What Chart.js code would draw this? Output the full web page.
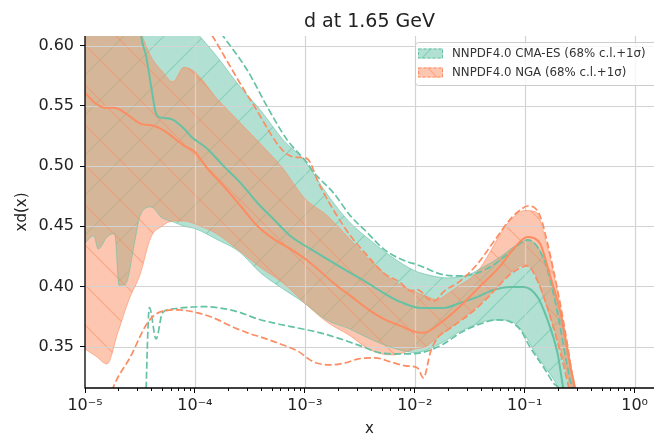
<!DOCTYPE html>
<html>
<head>
<meta charset="utf-8">
<title>d at 1.65 GeV</title>
<script src="https://cdn.jsdelivr.net/npm/chart.js@4.4.1/dist/chart.umd.min.js"></script>
<style>
  body { margin: 0; background: #fff; }
</style>
</head>
<body>
<canvas id="pdfChart" width="654" height="435"></canvas>
<script>
// values, x given as log10(x)
const chartTitle = 'd at 1.65 GeV';
const legendLabels = ['NNPDF4.0 CMA-ES (68% c.l.+1σ)', 'NNPDF4.0 NGA (68% c.l.+1σ)'];

const cmaBandLogX = [-5.0, -4.92, -4.88, -4.8, -4.73, -4.69, -4.63, -4.55, -4.5, -4.4, -4.3, -4.2, -4.1, -4.0, -3.8, -3.6, -3.4, -3.2, -3.0, -2.8, -2.6, -2.4, -2.2, -2.0, -1.9, -1.8, -1.7, -1.6, -1.5, -1.4, -1.3, -1.2, -1.1, -1.0, -0.9, -0.8, -0.7, -0.6, -0.5];
const cmaBandUp = [0.66, 0.66, 0.66, 0.66, 0.66, 0.66, 0.66, 0.66, 0.66, 0.65, 0.64, 0.63, 0.62, 0.612, 0.591, 0.567, 0.546, 0.522, 0.504, 0.477, 0.454, 0.438, 0.424, 0.413, 0.410, 0.408, 0.407, 0.408, 0.410, 0.415, 0.420, 0.426, 0.433, 0.438, 0.435, 0.417, 0.382, 0.3405, 0.29];
const cmaBandDown = [0.436, 0.442, 0.431, 0.441, 0.444, 0.401, 0.402, 0.436, 0.4585, 0.466, 0.457, 0.4536, 0.450, 0.448, 0.439, 0.429, 0.411, 0.398, 0.386, 0.372, 0.365, 0.356, 0.349, 0.345, 0.347, 0.351, 0.356, 0.362, 0.366, 0.370, 0.372, 0.372, 0.370, 0.360, 0.344, 0.331, 0.3165, 0.29, 0.27];

const ngaBandLogX = [-5.0, -4.9, -4.8, -4.7, -4.6, -4.5, -4.4, -4.3, -4.2, -4.1, -4.0, -3.8, -3.6, -3.4, -3.2, -3.0, -2.8, -2.6, -2.4, -2.2, -2.0, -1.9, -1.8, -1.7, -1.6, -1.5, -1.4, -1.3, -1.2, -1.1, -1.0, -0.9, -0.8, -0.7, -0.6, -0.5];
const ngaBandUp = [0.65, 0.65, 0.65, 0.65, 0.65, 0.614, 0.591, 0.579, 0.570, 0.582, 0.578, 0.556, 0.537, 0.518, 0.498, 0.473, 0.459, 0.440, 0.421, 0.405, 0.3955, 0.392, 0.389, 0.394, 0.4005, 0.4063, 0.416, 0.431, 0.447, 0.4577, 0.463, 0.462, 0.435, 0.3945, 0.345, 0.29];
const ngaBandDown = [0.348, 0.342, 0.3356, 0.362, 0.389, 0.4096, 0.441, 0.450, 0.4544, 0.4544, 0.452, 0.4436, 0.430, 0.4154, 0.403, 0.386, 0.3705, 0.3597, 0.347, 0.343, 0.348, 0.350, 0.357, 0.364, 0.371, 0.378, 0.386, 0.395, 0.4046, 0.4137, 0.418, 0.409, 0.383, 0.3556, 0.322, 0.28];

const cmaCentralLogX = [-4.514, -4.49, -4.444, -4.399, -4.353, -4.308, -4.217, -4.096, -4.041, -3.886, -3.741, -3.586, -3.431, -3.286, -3.131, -2.949, -2.74, -2.585, -2.43, -2.285, -2.13, -1.948, -1.739, -1.585, -1.43, -1.284, -1.13, -1.011, -0.884, -0.793, -0.702, -0.648, -0.585];
const cmaCentral = [0.63, 0.6081, 0.5914, 0.5665, 0.5433, 0.5402, 0.5391, 0.5308, 0.525, 0.5142, 0.5001, 0.486, 0.4693, 0.456, 0.4419, 0.4311, 0.4195, 0.4112, 0.4029, 0.3946, 0.3871, 0.3821, 0.3821, 0.3863, 0.3913, 0.3971, 0.3996, 0.3996, 0.3913, 0.3722, 0.3448, 0.3141, 0.28];

const ngaCentralLogX = [-5.0, -4.914, -4.823, -4.732, -4.641, -4.49, -4.369, -4.278, -4.096, -4.005, -3.886, -3.741, -3.586, -3.431, -3.286, -3.131, -2.949, -2.74, -2.585, -2.43, -2.285, -2.13, -1.994, -1.921, -1.766, -1.585, -1.403, -1.221, -1.103, -0.975, -0.92, -0.857, -0.766, -0.675, -0.584, -0.538, -0.5];
const ngaCentral = [0.561, 0.5527, 0.5485, 0.5485, 0.5444, 0.535, 0.5333, 0.5292, 0.5167, 0.512, 0.4979, 0.4835, 0.467, 0.4502, 0.4395, 0.4311, 0.4195, 0.4029, 0.3921, 0.3813, 0.373, 0.3672, 0.3622, 0.3614, 0.3697, 0.3838, 0.4004, 0.417, 0.4311, 0.4411, 0.4403, 0.435, 0.408, 0.378, 0.333, 0.314, 0.289];

const cmaSigmaUpLogX = [-3.818, -3.739, -3.525, -3.343, -3.161, -2.979, -2.922, -2.74, -2.585, -2.43, -2.285, -2.13, -1.948, -1.739, -1.585, -1.43, -1.284, -1.13, -0.975, -0.884, -0.793, -0.702, -0.611, -0.556, -0.52];
const cmaSigmaUp = [0.6174, 0.6074, 0.5798, 0.5493, 0.5217, 0.5026, 0.495, 0.4777, 0.4586, 0.4445, 0.4311, 0.4228, 0.417, 0.4096, 0.4087, 0.4112, 0.4179, 0.4286, 0.4386, 0.4328, 0.4137, 0.378, 0.3331, 0.3099, 0.29];
const cmaSigmaDownLogX = [-4.45, -4.444, -4.414, -4.353, -4.296, -4.217, -3.914, -3.741, -3.586, -3.431, -3.249, -3.067, -2.858, -2.676, -2.494, -2.312, -2.13, -1.948, -1.857, -1.739, -1.585, -1.43, -1.248, -1.13, -1.039, -0.947, -0.83, -0.739, -0.675, -0.62];
const cmaSigmaDown = [0.29, 0.3147, 0.3824, 0.3563, 0.3779, 0.3811, 0.3832, 0.3816, 0.3782, 0.373, 0.3689, 0.3655, 0.3614, 0.3564, 0.3506, 0.3448, 0.3439, 0.3448, 0.3472, 0.3522, 0.3614, 0.368, 0.3722, 0.3705, 0.3639, 0.3489, 0.3331, 0.3198, 0.3124, 0.29];

const ngaSigmaUpLogX = [-3.891, -3.836, -3.495, -3.116, -2.995, -2.949, -2.888, -2.74, -2.585, -2.43, -2.285, -2.13, -2.039, -1.975, -1.939, -1.884, -1.821, -1.739, -1.585, -1.43, -1.284, -1.13, -1.039, -0.975, -0.92, -0.857, -0.793, -0.739, -0.675, -0.611, -0.556, -0.51];
const ngaSigmaUp = [0.6158, 0.6074, 0.5549, 0.5078, 0.5067, 0.5026, 0.4885, 0.4635, 0.442, 0.4254, 0.4113, 0.403, 0.3963, 0.3971, 0.3955, 0.3897, 0.388, 0.3955, 0.4046, 0.4187, 0.4369, 0.456, 0.4635, 0.4668, 0.466, 0.4577, 0.436, 0.4137, 0.3846, 0.3514, 0.3198, 0.2975];
const ngaSigmaDownLogX = [-4.78, -4.741, -4.587, -4.432, -4.314, -4.15, -3.977, -3.832, -3.677, -3.522, -3.377, -3.222, -3.067, -2.922, -2.767, -2.631, -2.513, -2.358, -2.221, -2.085, -1.975, -1.921, -1.857, -1.794, -1.702, -1.585, -1.466, -1.339, -1.221, -1.103, -0.975, -0.884, -0.793, -0.702, -0.611, -0.565];
const ngaSigmaDown = [0.305, 0.3165, 0.3415, 0.3697, 0.3788, 0.3805, 0.378, 0.3739, 0.3672, 0.3614, 0.3572, 0.3522, 0.3464, 0.3373, 0.3348, 0.3365, 0.3398, 0.3406, 0.3373, 0.334, 0.3323, 0.324, 0.3456, 0.3572, 0.3638, 0.3713, 0.3796, 0.3904, 0.402, 0.412, 0.417, 0.4046, 0.3822, 0.354, 0.3208, 0.3017];

// axis ticks
const xMajorExp = [-5, -4, -3, -2, -1, 0];
const xTickLabels = ['10⁻⁵', '10⁻⁴', '10⁻³', '10⁻²', '10⁻¹', '10⁰'];
const xMinorMult = [2, 3, 4, 5, 6, 7, 8, 9];
const yTicks = [0.35, 0.40, 0.45, 0.50, 0.55, 0.60];

const green = '102,194,165';
const orange = '252,141,98';
const gridColor = '#d3d3d3';

Chart.defaults.font.family = "'DejaVu Sans', sans-serif";
Chart.defaults.color = '#222';

function toPoints(logx, vals) {
  return logx.map((lx, i) => ({ x: Math.pow(10, lx), y: vals[i] }));
}

// band fill + hatch in one repeating tile
function hatchPattern(rgb, dir) {
  const s = 40;
  const c = document.createElement('canvas');
  c.width = s; c.height = s;
  const g = c.getContext('2d');
  g.fillStyle = 'rgba(' + rgb + ',0.5)';
  g.fillRect(0, 0, s, s);
  g.strokeStyle = 'rgba(' + rgb + ',0.55)';
  g.lineWidth = 1.2;
  g.beginPath();
  if (dir === '/') {
    g.moveTo(0, s); g.lineTo(s, 0);
    g.moveTo(-2, 2); g.lineTo(2, -2);
    g.moveTo(s - 2, s + 2); g.lineTo(s + 2, s - 2);
  } else {
    g.moveTo(0, 0); g.lineTo(s, s);
    g.moveTo(s - 2, -2); g.lineTo(s + 2, 2);
    g.moveTo(-2, s - 2); g.lineTo(2, s + 2);
  }
  g.stroke();
  return g.createPattern(c, 'repeat');
}

const cmaPattern = hatchPattern(green, '/');
const ngaPattern = hatchPattern(orange, '\\');

function bandEdge(label, rgb, pts, fill, bg, order) {
  return {
    label: label, data: pts, order: order,
    borderColor: 'rgba(' + rgb + ',0.6)', borderWidth: 1,
    backgroundColor: bg, fill: fill, clip: 0
  };
}
function curve(label, rgb, pts, dashed, order) {
  return {
    label: label, data: pts, order: order,
    borderColor: 'rgb(' + rgb + ')', borderWidth: dashed ? 1.7 : 2,
    borderDash: dashed ? [7, 3] : [], fill: false, clip: 0
  };
}

const axesPlugin = {
  id: 'axesPlugin',
  // grid over the bands but under the lines, like matplotlib
  beforeDatasetsDraw(chart) {
    const { ctx, chartArea: a, scales: { x, y } } = chart;
    ctx.save();
    ctx.strokeStyle = gridColor;
    ctx.lineWidth = 1.2;
    ctx.beginPath();
    x.ticks.forEach(t => {
      const px = Math.round(x.getPixelForValue(t.value)) + 0.5;
      if (px - a.left < 2) return;
      ctx.moveTo(px, a.top); ctx.lineTo(px, a.bottom);
    });
    y.ticks.forEach(t => {
      const py = Math.round(y.getPixelForValue(t.value)) + 0.5;
      ctx.moveTo(a.left, py); ctx.lineTo(a.right, py);
    });
    ctx.stroke();
    ctx.restore();
  },
  afterDatasetsDraw(chart) {
    const { ctx, chartArea: a, scales: { x } } = chart;
    ctx.save();
    // spines
    ctx.strokeStyle = '#000';
    ctx.lineWidth = 1.3;
    ctx.beginPath();
    ctx.moveTo(a.left, a.top); ctx.lineTo(a.left, a.bottom + 0.6);
    ctx.moveTo(a.left - 0.6, a.bottom); ctx.lineTo(a.right, a.bottom);
    ctx.stroke();
    // minor ticks of the log axis
    ctx.lineWidth = 1;
    ctx.beginPath();
    xMajorExp.forEach(e => {
      xMinorMult.forEach(m => {
        const v = m * Math.pow(10, e);
        if (v > x.max) return;
        const px = Math.round(x.getPixelForValue(v)) + 0.5;
        ctx.moveTo(px, a.bottom); ctx.lineTo(px, a.bottom + 3);
      });
    });
    ctx.stroke();

    // legend
    const bx = 415.5, by = 42.5, bw = 250, bh = 43, r = 3;
    ctx.beginPath();
    ctx.moveTo(bx + r, by);
    ctx.lineTo(bx + bw, by);
    ctx.lineTo(bx + bw, by + bh);
    ctx.lineTo(bx + r, by + bh);
    ctx.arcTo(bx, by + bh, bx, by + bh - r, r);
    ctx.lineTo(bx, by + r);
    ctx.arcTo(bx, by, bx + r, by, r);
    ctx.closePath();
    ctx.fillStyle = 'rgba(255,255,255,0.8)';
    ctx.fill();
    ctx.strokeStyle = '#cccccc';
    ctx.lineWidth = 1;
    ctx.stroke();

    const handles = [[cmaPattern, green], [ngaPattern, orange]];
    legendLabels.forEach((txt, i) => {
      const cy = 53.5 + i * 19;
      ctx.fillStyle = handles[i][0];
      ctx.fillRect(418, cy - 5, 25, 10);
      ctx.setLineDash([3, 2]);
      ctx.strokeStyle = 'rgb(' + handles[i][1] + ')';
      ctx.strokeRect(418.5, cy - 4.5, 24, 9);
      ctx.setLineDash([]);
      ctx.fillStyle = '#333';
      ctx.font = "11.8px 'DejaVu Sans'";
      ctx.textBaseline = 'middle';
      ctx.fillText(txt, 452, cy);
    });
    ctx.restore();
  }
};

new Chart(document.getElementById('pdfChart'), {
  type: 'line',
  data: {
    datasets: [
      bandEdge('CMA-ES 68% up', green, toPoints(cmaBandLogX, cmaBandUp), '+1', cmaPattern, 6),
      bandEdge('CMA-ES 68% down', green, toPoints(cmaBandLogX, cmaBandDown), false, undefined, 6),
      bandEdge('NGA 68% up', orange, toPoints(ngaBandLogX, ngaBandUp), '+1', ngaPattern, 5),
      bandEdge('NGA 68% down', orange, toPoints(ngaBandLogX, ngaBandDown), false, undefined, 5),
      curve('CMA-ES central', green, toPoints(cmaCentralLogX, cmaCentral), false, 3),
      curve('CMA-ES +1σ', green, toPoints(cmaSigmaUpLogX, cmaSigmaUp), true, 3),
      curve('CMA-ES -1σ', green, toPoints(cmaSigmaDownLogX, cmaSigmaDown), true, 3),
      curve('NGA central', orange, toPoints(ngaCentralLogX, ngaCentral), false, 1),
      curve('NGA +1σ', orange, toPoints(ngaSigmaUpLogX, ngaSigmaUp), true, 1),
      curve('NGA -1σ', orange, toPoints(ngaSigmaDownLogX, ngaSigmaDown), true, 1)
    ]
  },
  options: {
    responsive: false,
    animation: false,
    layout: { padding: 0 },
    elements: {
      point: { radius: 0 },
      line: { cubicInterpolationMode: 'monotone' }
    },
    plugins: {
      legend: { display: false },
      tooltip: { enabled: false },
      filler: { drawTime: 'beforeDatasetsDraw' },
      title: {
        display: true, text: chartTitle, fullSize: false, color: '#222',
        font: { size: 19, weight: 'normal' },
        padding: { top: 10.6, bottom: 2.6 }
      }
    },
    scales: {
      x: {
        type: 'logarithmic', min: 1e-5, max: 1.5,
        afterBuildTicks: s => { s.ticks = xMajorExp.map(e => ({ value: Math.pow(10, e) })); },
        afterFit: s => { s.height = 47; },
        grid: { drawOnChartArea: false, tickLength: 5, tickColor: '#000', tickWidth: 1 },
        border: { display: false },
        ticks: {
          autoSkip: false, maxRotation: 0, padding: 3, color: '#222',
          font: { size: 16 },
          callback: (v, i) => xTickLabels[i]
        },
        title: { display: true, text: 'x', color: '#222', font: { size: 15, lineHeight: 0.8 }, padding: 0 }
      },
      y: {
        min: 0.3156, max: 0.608,
        afterBuildTicks: s => { s.ticks = yTicks.map(v => ({ value: v })); },
        afterFit: s => { s.width = 85; },
        grid: { drawOnChartArea: false, tickLength: 5, tickColor: '#000', tickWidth: 1 },
        border: { display: false },
        ticks: { padding: 6, color: '#222', font: { size: 16 }, callback: v => v.toFixed(2) },
        title: { display: true, text: 'xd(x)', color: '#222', font: { size: 15 }, padding: { top: 13, bottom: 0 } }
      }
    }
  },
  plugins: [axesPlugin]
});
</script>
</body>
</html>
